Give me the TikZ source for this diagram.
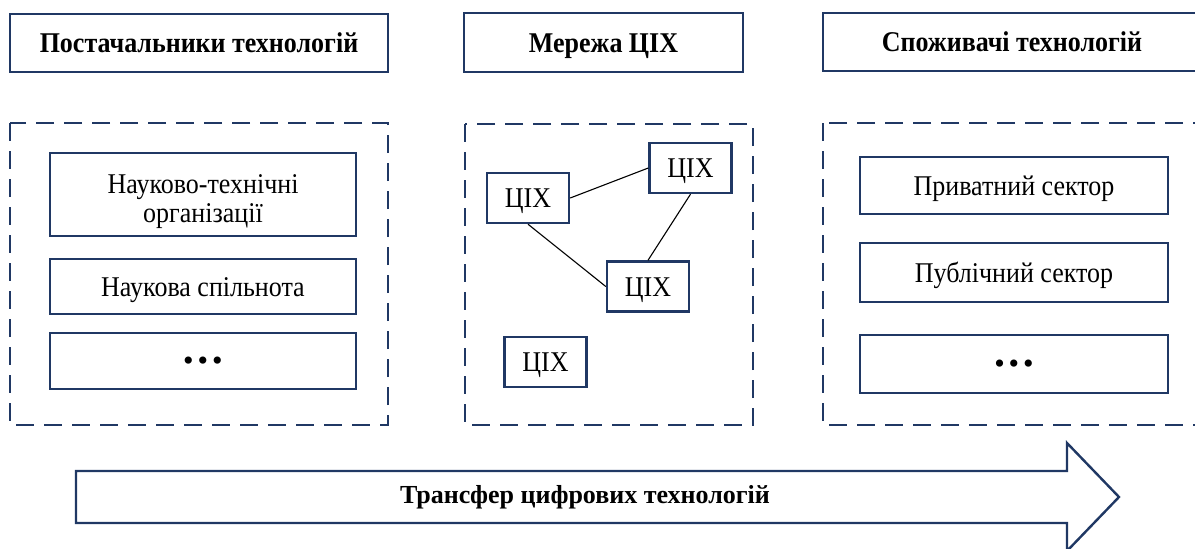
\documentclass[tikz,border=0pt]{standalone}
\usepackage{fontspec}
\usepackage{graphicx}
\setmainfont{Liberation Serif}
\definecolor{navy}{RGB}{32,56,100}
\newcommand{\tall}[1]{\scalebox{1}[1.1]{#1}}
\tikzset{
  hdr/.style={draw=navy, line width=2.6pt, fill=white, inner sep=0pt,
    text height=23pt, text depth=4pt,
    font=\fontsize{26}{30}\selectfont\bfseries},
  group/.style={draw=navy, line width=2.4pt, dash pattern=on 18pt off 10pt},
  item/.style={draw=navy, line width=2.4pt, fill=white, inner sep=0pt,
    text height=21pt, text depth=2pt,
    font=\fontsize{26}{30}\selectfont},
  hub/.style={item, minimum width=82pt, minimum height=50pt},
  link/.style={draw=black, line width=1.1pt},
  dots/.style={font=\fontsize{30}{32}\selectfont, yshift=-3pt}
}
\begin{document}
\begin{tikzpicture}[x=1pt, y=-1pt]
\useasboundingbox (0,0) rectangle (1195,549);
\clip (0,0) rectangle (1195,549);

% column headers
\node[hdr, minimum width=378pt, minimum height=58pt] (h1) at (199,43) {\tall{Постачальники технологій}};
\node[hdr, minimum width=279pt, minimum height=59pt] (h2) at (603.5,42.5) {\tall{Мережа ЦІХ}};
\node[hdr, minimum width=378pt, minimum height=58pt] (h3) at (1012,42) {\tall{Споживачі технологій}};

% dashed group frames
\draw[group] (10,123) rectangle (388,425);
\draw[group] (465,124) rectangle (753,425);
\draw[group] (823,123) rectangle (1205,425);

% technology providers
\node[item, minimum width=306pt, minimum height=83pt] (l1) at (203,194.5) {};
\node[font=\fontsize{26}{26.5}\selectfont, inner sep=0pt, yshift=-8pt] (l1t) at (l1)
  {\tall{\begin{tabular}{@{}c@{}}Науково-технічні\\ організації\end{tabular}}};
\node[item, minimum width=306pt, minimum height=55pt] (l2) at (203,286.5) {\tall{Наукова спільнота}};
\node[item, minimum width=306pt, minimum height=56pt] (l3) at (203,361) {};
\node[dots] (l3t) at (l3) {•\kern4pt•\kern4pt•};

% network of centres
\node[hub] (a) at (528,198) {\tall{ЦІХ}};
\node[hub] (b) at (690.5,168) {\tall{ЦІХ}};
\node[hub] (c) at (648,286.5) {\tall{ЦІХ}};
\node[hub] (d) at (545.5,362) {\tall{ЦІХ}};
\draw[link] (a.east) -- (b.west);
\draw[link] (a.south) -- (c.west);
\draw[link] (b.south) -- (c.north);

% technology consumers
\node[item, minimum width=308pt, minimum height=57pt] (r1) at (1014,185.5) {\tall{Приватний сектор}};
\node[item, minimum width=308pt, minimum height=59pt] (r2) at (1014,272.5) {\tall{Публічний сектор}};
\node[item, minimum width=308pt, minimum height=58pt] (r3) at (1014,364) {};
\node[dots] (r3t) at (r3) {•\kern4pt•\kern4pt•};

% transfer arrow
\draw[draw=navy, line width=2.4pt, line join=miter, fill=white]
  (76,471) -- (1067,471) -- (1067,443) -- (1119,497) -- (1067,551) -- (1067,523) -- (76,523) -- cycle;
\node[font=\fontsize{26}{30}\selectfont\bfseries] (tr) at (585,497) {Трансфер цифрових технологій};
\end{tikzpicture}
\end{document}
